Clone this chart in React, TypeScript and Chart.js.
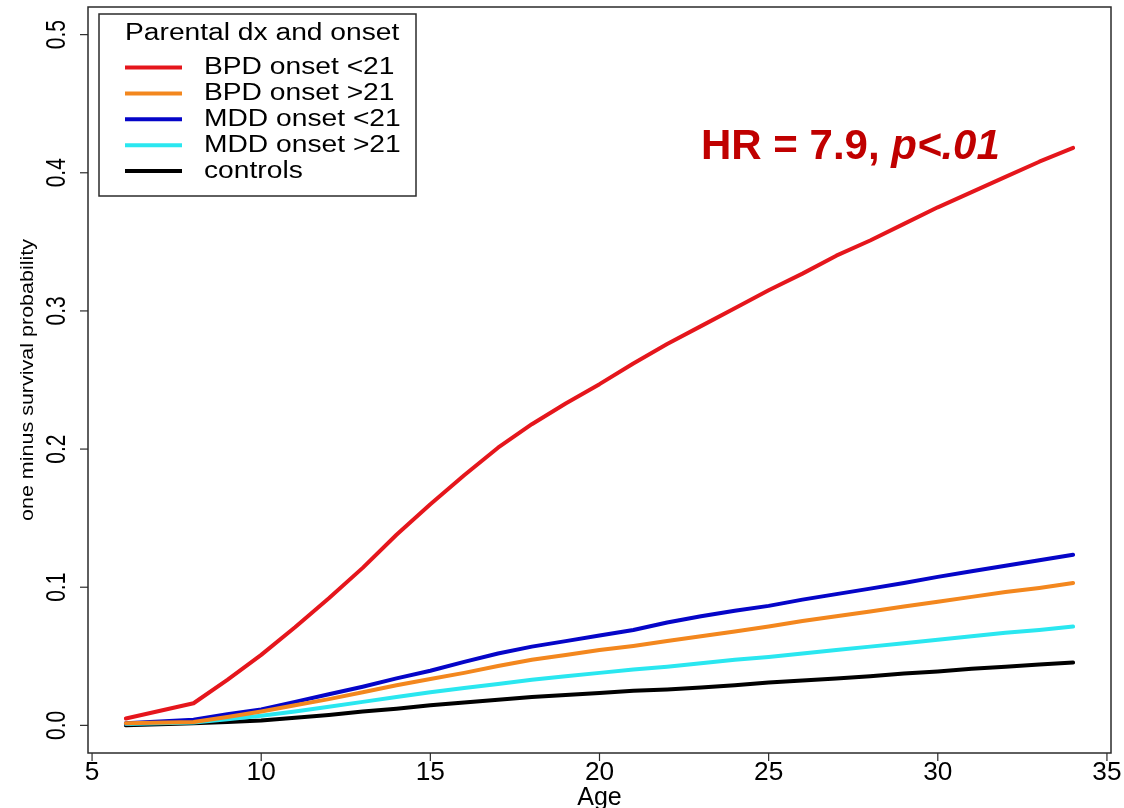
import { useEffect, useRef } from "react";
import { Chart, registerables } from "chart.js";

Chart.register(...registerables);

// ---------- data ----------
const ages = [6, 8, 9, 10, 11, 12, 13, 14, 15, 16, 17, 18, 19, 20, 21, 22, 23, 24, 25, 26, 27, 28, 29, 30, 31, 32, 33, 34];
const bpdEarly = [0.005, 0.016, 0.033, 0.051, 0.071, 0.092, 0.114, 0.138, 0.16, 0.181, 0.201, 0.218, 0.233, 0.247, 0.262, 0.276, 0.289, 0.302, 0.315, 0.327, 0.34, 0.351, 0.363, 0.375, 0.386, 0.397, 0.408, 0.418];
const bpdLate = [0.0015, 0.0025, 0.006, 0.01, 0.0145, 0.019, 0.024, 0.029, 0.0335, 0.038, 0.043, 0.0475, 0.051, 0.0545, 0.0575, 0.061, 0.0645, 0.068, 0.0715, 0.0755, 0.079, 0.0825, 0.086, 0.0895, 0.093, 0.0965, 0.0995, 0.103];
const mddEarly = [0.0015, 0.004, 0.008, 0.0115, 0.017, 0.0225, 0.028, 0.034, 0.0395, 0.046, 0.052, 0.057, 0.061, 0.065, 0.069, 0.0745, 0.079, 0.083, 0.0865, 0.091, 0.095, 0.099, 0.103, 0.1075, 0.1115, 0.1155, 0.1195, 0.1235];
const mddLate = [0.001, 0.002, 0.0045, 0.007, 0.01, 0.0135, 0.017, 0.0205, 0.024, 0.027, 0.03, 0.033, 0.0355, 0.038, 0.0405, 0.0425, 0.045, 0.0475, 0.0495, 0.052, 0.0545, 0.057, 0.0595, 0.062, 0.0645, 0.067, 0.069, 0.0715];
const controls = [0, 0.0015, 0.0025, 0.0035, 0.0055, 0.0075, 0.01, 0.012, 0.0145, 0.0165, 0.0185, 0.0205, 0.022, 0.0235, 0.025, 0.026, 0.0275, 0.029, 0.031, 0.0325, 0.034, 0.0355, 0.0375, 0.039, 0.041, 0.0425, 0.044, 0.0455];

const seriesValues = [bpdEarly, bpdLate, mddEarly, mddLate, controls];
const seriesLabels = ["BPD onset <21", "BPD onset >21", "MDD onset <21", "MDD onset >21", "controls"];
const seriesColors = ["#e5161c", "#f3871e", "#0505c8", "#2ae7f0", "#000000"];

const xTicks = [5, 10, 15, 20, 25, 30, 35];
const xTickLabels = ["5", "10", "15", "20", "25", "30", "35"];
const yTicks = [0, 0.1, 0.2, 0.3, 0.4, 0.5];
const yTickLabels = ["0.0", "0.1", "0.2", "0.3", "0.4", "0.5"];

const legendTitle = "Parental dx and onset";
const xTitle = "Age";
const yTitle = "one minus survival probability";
const hrMain = "HR = 7.9, ";
const hrItalic = "p<.01";

const FONT = '"Liberation Sans", Arial, sans-serif';

type TxtOpts = {
  sx?: number;
  sy?: number;
  rot?: number;
  style?: string;
  weight?: string;
  color?: string;
  align?: CanvasTextAlign;
  baseline?: CanvasTextBaseline;
};

function txt(ctx: CanvasRenderingContext2D, s: string, x: number, y: number, size: number, o: TxtOpts = {}) {
  ctx.save();
  ctx.translate(x, y);
  ctx.scale(o.sx ?? 1, o.sy ?? 1);
  if (o.rot) ctx.rotate(o.rot);
  ctx.font = `${o.style ?? "normal"} ${o.weight ?? "normal"} ${size}px ${FONT}`;
  ctx.fillStyle = o.color ?? "#000";
  ctx.textAlign = o.align ?? "center";
  ctx.textBaseline = o.baseline ?? "middle";
  ctx.fillText(s, 0, 0);
  ctx.restore();
}

const decorPlugin = {
  id: "rDecor",
  afterDraw(chart: any) {
    const ctx: CanvasRenderingContext2D = chart.ctx;
    const { left, right, top, bottom } = chart.chartArea;
    const xs = chart.scales.x;
    const ys = chart.scales.y;

    ctx.save();
    // plot box
    ctx.strokeStyle = "#2b2b2b";
    ctx.lineWidth = 1.5;
    ctx.strokeRect(left, top, right - left, bottom - top);

    // x ticks + labels
    ctx.lineWidth = 1.2;
    xTicks.forEach((v, i) => {
      const px = xs.getPixelForValue(v);
      ctx.beginPath();
      ctx.moveTo(px, bottom);
      ctx.lineTo(px, bottom + 8);
      ctx.stroke();
      txt(ctx, xTickLabels[i], px, bottom + 20, 25, { sx: 1.05 });
    });

    // y ticks + labels
    yTicks.forEach((v, i) => {
      const py = ys.getPixelForValue(v);
      ctx.beginPath();
      ctx.moveTo(left - 8, py);
      ctx.lineTo(left, py);
      ctx.stroke();
      txt(ctx, yTickLabels[i], left - 31, py, 21, { sx: 1.35, rot: -Math.PI / 2 });
    });

    // axis titles
    txt(ctx, xTitle, (left + right) / 2, bottom + 45, 25);
    txt(ctx, yTitle, 28, 380, 21.5, { sx: 0.88, rot: -Math.PI / 2 });

    // legend
    const lx0 = 99, ly0 = 14, lx1 = 416, ly1 = 196;
    ctx.fillStyle = "#fff";
    ctx.fillRect(lx0, ly0, lx1 - lx0, ly1 - ly0);
    ctx.strokeStyle = "#2b2b2b";
    ctx.lineWidth = 1.5;
    ctx.strokeRect(lx0, ly0, lx1 - lx0, ly1 - ly0);
    txt(ctx, legendTitle, 125, 34, 23.5, { sx: 1.2, align: "left" });
    seriesLabels.forEach((lab, i) => {
      const yy = 67.5 + i * 25.9;
      ctx.strokeStyle = seriesColors[i];
      ctx.lineWidth = 4;
      ctx.lineCap = "butt";
      ctx.beginPath();
      ctx.moveTo(125, yy);
      ctx.lineTo(182, yy);
      ctx.stroke();
      txt(ctx, lab, 204, yy, 23.5, { sx: 1.2, align: "left" });
    });

    // HR annotation
    const hrColor = "#c00000";
    ctx.font = `normal bold 42px ${FONT}`;
    const w = ctx.measureText(hrMain).width;
    txt(ctx, hrMain, 701, 159, 42, { weight: "bold", color: hrColor, align: "left", baseline: "alphabetic" });
    txt(ctx, hrItalic, 701 + w, 159, 42, { weight: "bold", style: "italic", color: hrColor, align: "left", baseline: "alphabetic" });

    ctx.restore();
  },
};

export default function App() {
  const ref = useRef<HTMLCanvasElement | null>(null);

  useEffect(() => {
    if (!ref.current) return;
    const datasets = seriesValues.map((vals, i) => ({
      label: seriesLabels[i],
      data: ages.map((a, j) => ({ x: a, y: vals[j] })),
      borderColor: seriesColors[i],
      backgroundColor: seriesColors[i],
      borderWidth: 4,
      pointRadius: 0,
      tension: 0,
      fill: false,
      borderCapStyle: "round" as const,
      borderJoinStyle: "round" as const,
    }));
    const chart = new Chart(ref.current, {
      type: "line",
      data: { datasets },
      options: {
        responsive: false,
        animation: false,
        layout: { padding: { left: 88, top: 7, right: 13, bottom: 55 } },
        scales: {
          x: { type: "linear", min: 4.88, max: 35.12, display: false },
          y: { type: "linear", min: -0.02, max: 0.52, display: false },
        },
        plugins: { legend: { display: false }, tooltip: { enabled: false } },
      },
      plugins: [decorPlugin],
    });
    return () => chart.destroy();
  }, []);

  return (
    <div style={{ position: "absolute", left: 0, top: 0, width: 1124, height: 808, background: "#fff" }}>
      <canvas ref={ref} width={1124} height={808} style={{ display: "block", width: 1124, height: 808 }} />
    </div>
  );
}
